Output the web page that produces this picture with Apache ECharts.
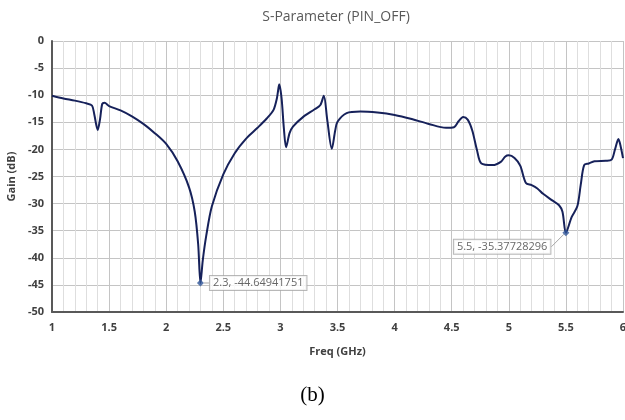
<!DOCTYPE html>
<html>
<head>
<meta charset="utf-8">
<script src="https://cdn.jsdelivr.net/npm/echarts@6/dist/echarts.min.js"></script>
<style>
html,body{margin:0;padding:0;background:#fff;}
#c{width:625px;height:420px;}
</style>
</head>
<body>
<div id="c"></div>
<script>
const freq = [1.00,1.10,1.20,1.30,1.35,1.37,1.40,1.42,1.44,1.46,1.50,1.60,1.70,1.80,1.90,2.00,2.10,2.20,2.25,2.28,2.30,2.32,2.35,2.40,2.50,2.60,2.70,2.80,2.88,2.94,2.97,2.99,3.01,3.03,3.05,3.08,3.11,3.20,3.30,3.35,3.38,3.41,3.45,3.48,3.50,3.58,3.70,3.85,4.00,4.15,4.30,4.45,4.52,4.56,4.60,4.64,4.68,4.72,4.76,4.86,4.93,4.97,5.00,5.05,5.10,5.15,5.20,5.25,5.30,5.38,5.44,5.47,5.50,5.55,5.60,5.63,5.66,5.70,5.75,5.85,5.90,5.93,5.96,5.98,6.00];
const gain = [-10.1,-10.6,-11.0,-11.5,-11.9,-13.5,-16.4,-14.5,-11.6,-11.4,-12.0,-12.8,-13.9,-15.3,-17.0,-19.0,-22.2,-27.0,-31.5,-37.5,-44.64941751,-40.5,-36.0,-30.5,-24.6,-20.7,-18.0,-16.0,-14.3,-12.7,-10.5,-8.0,-10.5,-16.0,-19.6,-17.0,-15.8,-14.0,-12.6,-11.8,-10.1,-14.5,-19.9,-16.5,-14.9,-13.3,-13.0,-13.2,-13.65,-14.4,-15.3,-16.0,-15.9,-14.8,-14.0,-14.5,-16.5,-20.0,-22.6,-22.9,-22.3,-21.3,-21.1,-21.6,-23.0,-26.2,-26.6,-27.2,-28.2,-29.4,-30.3,-31.5,-35.37728296,-32.5,-30.5,-26.5,-22.9,-22.6,-22.2,-22.1,-21.9,-20.0,-18.1,-19.5,-21.6];
const markFreq = [2.3, 5.5];
const markGain = [-44.64941751, -35.37728296];
const titleText = 'S-Parameter (PIN_OFF)';
const xName = 'Freq (GHz)';
const yName = 'Gain (dB)';
const captionText = '(b)';

const lineData = freq.map((f, i) => [f, gain[i]]);
const chart = echarts.init(document.getElementById('c'), null, {renderer: 'canvas'});
const font = '"Open Sans", "Noto Sans", sans-serif';
chart.setOption({
  animation: false,
  backgroundColor: '#fff',
  title: {
    text: titleText, left: 331, top: 5, textAlign: 'center',
    textStyle: {fontFamily: font, fontSize: 14, fontWeight: 'normal', color: '#595959'}
  },
  grid: {left: 52, right: 2, top: 41, bottom: 108, containLabel: false, outerBoundsMode: 'none'},
  xAxis: {
    type: 'value', min: 1, max: 6, interval: 0.5,
    name: xName, nameLocation: 'middle', nameGap: 34,
    nameTextStyle: {fontFamily: font, fontSize: 11, fontWeight: 'bold', color: '#404040'},
    axisLine: {show: true, onZero: false, lineStyle: {color: '#595959', width: 2}},
    axisTick: {show: false},
    axisLabel: {fontFamily: font, fontSize: 11, fontWeight: 'bold', color: '#404040', margin: 10},
    splitLine: {show: true, lineStyle: {color: '#c4c4c4', width: 1}},
    minorTick: {show: false, splitNumber: 5},
    minorSplitLine: {show: true, lineStyle: {color: '#dedede', width: 1}}
  },
  yAxis: {
    type: 'value', min: -50, max: 0, interval: 5,
    name: yName, nameLocation: 'middle', nameGap: 31, nameRotate: 90,
    nameTextStyle: {fontFamily: font, fontSize: 11, fontWeight: 'bold', color: '#404040'},
    axisLine: {show: true, onZero: false, lineStyle: {color: '#595959', width: 2}},
    axisTick: {show: false},
    axisLabel: {fontFamily: font, fontSize: 11, fontWeight: 'bold', color: '#404040', margin: 8},
    splitLine: {show: true, lineStyle: {color: '#c4c4c4', width: 1}}
  },
  series: [
    {
      type: 'line', data: lineData, showSymbol: false, smooth: 0.3,
      lineStyle: {color: '#16215a', width: 2}, z: 3
    },
    {
      type: 'scatter', symbol: 'diamond', symbolSize: 7,
      itemStyle: {color: '#2f5597'}, z: 4,
      data: [
        {value: [markFreq[0], markGain[0]], label: {position: 'right', distance: 6}},
        {value: [markFreq[1], markGain[1]], label: {position: 'left', distance: 2}}
      ],
      label: {
        show: true,
        formatter: p => p.value[0] + ', ' + p.value[1],
        fontFamily: font, fontSize: 11, color: '#404040',
        backgroundColor: '#fff', borderColor: '#a6a6a6', borderWidth: 1, padding: [2, 3, 1, 3]
      },
      labelLayout: p => (p.dataIndex === 1 ? {dx: -10, dy: 14} : {}),
      labelLine: {show: true, lineStyle: {color: '#a6a6a6', width: 1}}
    }
  ],
  graphic: [
    {type: 'text', left: 'center', top: 385, style: {text: captionText, font: '21px "Liberation Serif", serif', fill: '#000'}}
  ]
});
</script>
</body>
</html>
